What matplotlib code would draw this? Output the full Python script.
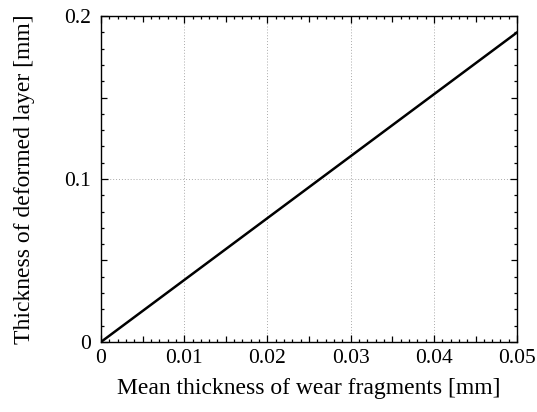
import numpy as np
import matplotlib
matplotlib.use("Agg")
import matplotlib.pyplot as plt
from matplotlib.ticker import MultipleLocator, FixedFormatter, FixedLocator

# Data
fragment_thickness = [0.0, 0.05]      # mm
layer_thickness = [0.0, 0.19]         # mm

x_ticks = [0, 0.01, 0.02, 0.03, 0.04, 0.05]
x_tick_labels = ["0", "0.01", "0.02", "0.03", "0.04", "0.05"]
y_ticks = [0, 0.1, 0.2]
y_tick_labels = ["0", "0.1", "0.2"]

plt.rcParams["font.family"] = ["Liberation Serif", "DejaVu Serif"]
plt.rcParams["font.size"] = 15.5

fig = plt.figure(figsize=(5.37, 4.12), dpi=100)
ax = fig.add_axes([0.188, 0.170, 0.775, 0.791])

ax.plot(fragment_thickness, layer_thickness, color="black", lw=1.8)

ax.set_xlim(0, 0.05)
ax.set_ylim(0, 0.2)
ax.xaxis.set_major_locator(FixedLocator(x_ticks))
ax.xaxis.set_major_formatter(FixedFormatter(x_tick_labels))
ax.yaxis.set_major_locator(FixedLocator(y_ticks))
ax.yaxis.set_major_formatter(FixedFormatter(y_tick_labels))
ax.xaxis.set_minor_locator(MultipleLocator(0.001))
ax.yaxis.set_minor_locator(MultipleLocator(0.01))

ax.grid(True, which="major", linestyle=(0, (1, 2)), color="#aaaaaa", lw=0.7)
ax.tick_params(which="both", direction="in", top=True, right=True, width=0.9, color="black")
ax.tick_params(which="major", length=5)
ax.tick_params(axis="x", which="major", pad=5)
ax.tick_params(axis="y", which="major", pad=7)
ax.tick_params(which="minor", length=2)
for sp in ax.spines.values():
    sp.set_linewidth(1.0)

# medium-length ticks at half-way between major ticks
fig.canvas.draw()
for t, loc in zip(ax.xaxis.get_minor_ticks(), ax.xaxis.get_minorticklocs()):
    if abs(round(loc / 0.005) * 0.005 - loc) < 1e-9 and abs(round(loc / 0.01) * 0.01 - loc) > 1e-9:
        t.tick1line.set_markersize(4)
        t.tick2line.set_markersize(4)
for t, loc in zip(ax.yaxis.get_minor_ticks(), ax.yaxis.get_minorticklocs()):
    if abs(round(loc / 0.05) * 0.05 - loc) < 1e-9 and abs(round(loc / 0.1) * 0.1 - loc) > 1e-9:
        t.tick1line.set_markersize(4)
        t.tick2line.set_markersize(4)

ax.set_xlabel("Mean thickness of wear fragments [mm]", fontsize=17, labelpad=7)
ax.set_ylabel("Thickness of deformed layer [mm]", fontsize=17, labelpad=21)

fig.savefig("out.png", dpi=100)
